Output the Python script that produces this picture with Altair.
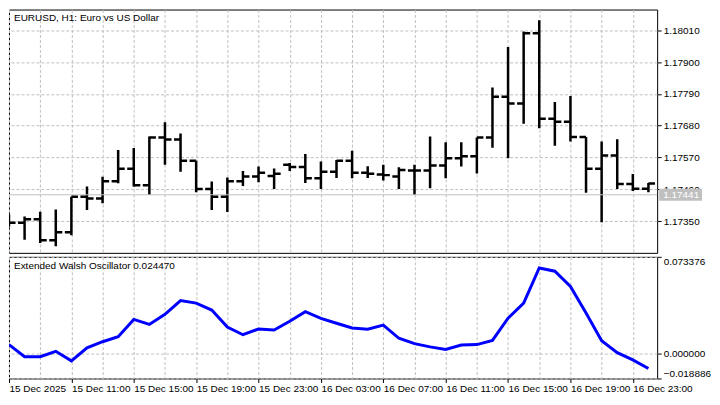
import altair as alt
import pandas as pd

# ---- data (EURUSD H1, 15 Dec 07:00 .. 17 Dec 00:00) ----
opens = [1.17353, 1.17344, 1.17356, 1.17284, 1.17311, 1.17434, 1.17428, 1.17488, 1.17531, 1.17474,
         1.17639, 1.17632, 1.17559, 1.17461, 1.17434, 1.17488, 1.17504, 1.17506, 1.17545, 1.17537,
         1.17498, 1.17521, 1.17559, 1.17517, 1.17511, 1.17504, 1.17525, 1.17525, 1.17542, 1.17567,
         1.17574, 1.17639, 1.17780, 1.17757, 1.18000, 1.17704, 1.17694, 1.17641, 1.17531, 1.17577,
         1.17478, 1.17462]
highs = [1.17373, 1.17366, 1.17382, 1.17390, 1.17434, 1.17470, 1.17503, 1.17596, 1.17603, 1.17643,
         1.17692, 1.17653, 1.17559, 1.17487, 1.17501, 1.17523, 1.17539, 1.17532, 1.17551, 1.17582,
         1.17556, 1.17561, 1.17593, 1.17540, 1.17545, 1.17536, 1.17545, 1.17643, 1.17623, 1.17623,
         1.17639, 1.17812, 1.17952, 1.18006, 1.18045, 1.17762, 1.17783, 1.17641, 1.17625, 1.17633,
         1.17513, 1.17482]
lows = [1.17330, 1.17285, 1.17274, 1.17263, 1.17301, 1.17388, 1.17412, 1.17481, 1.17470, 1.17440,
        1.17545, 1.17521, 1.17450, 1.17388, 1.17381, 1.17471, 1.17484, 1.17461, 1.17523, 1.17482,
        1.17461, 1.17499, 1.17498, 1.17499, 1.17490, 1.17461, 1.17440, 1.17464, 1.17498, 1.17539,
        1.17515, 1.17604, 1.17567, 1.17687, 1.17671, 1.17611, 1.17625, 1.17448, 1.17346, 1.17461,
        1.17454, 1.17450]
closes = [1.17344, 1.17356, 1.17284, 1.17311, 1.17434, 1.17428, 1.17488, 1.17531, 1.17474, 1.17639,
          1.17632, 1.17559, 1.17461, 1.17434, 1.17488, 1.17504, 1.17517, 1.17514, 1.17537, 1.17498,
          1.17521, 1.17559, 1.17517, 1.17514, 1.17509, 1.17527, 1.17525, 1.17542, 1.17567, 1.17574,
          1.17639, 1.17780, 1.17757, 1.18000, 1.17704, 1.17694, 1.17641, 1.17531, 1.17577, 1.17478,
          1.17462, 1.17480]
osc = [0.00683, -0.00240, -0.00240, 0.00174, -0.00552, 0.00436, 0.00901, 0.01286, 0.02594, 0.02208,
       0.02979, 0.04025, 0.03829, 0.03298, 0.02012, 0.01431, 0.01867, 0.01794, 0.02448, 0.03175,
       0.02666, 0.02303, 0.01940, 0.01845, 0.02158, 0.01162, 0.00756, 0.00509, 0.00320, 0.00654,
       0.00683, 0.00995, 0.02688, 0.03829, 0.06495, 0.06248, 0.05085, 0.03080, 0.00973, 0.00073,
       -0.00479, -0.01133]

time_labels = ["15 Dec 2025", "15 Dec 11:00", "15 Dec 15:00", "15 Dec 19:00", "15 Dec 23:00",
               "16 Dec 03:00", "16 Dec 07:00", "16 Dec 11:00", "16 Dec 15:00", "16 Dec 19:00",
               "16 Dec 23:00"]
price_ticks = [1.17350, 1.17460, 1.17570, 1.17680, 1.17790, 1.17900, 1.18010]
osc_ticks = [-0.018886, 0.0, 0.073376]
current_price = 1.17441
price_domain = [1.17240, 1.18082]
osc_domain = [-0.018886, 0.073376]
chart_title = "EURUSD, H1:  Euro vs US Dollar"
osc_title = "Extended Walsh Oscillator 0.024470"

W = 650
H1 = 244
H2 = 122
FONT = "Liberation Sans"
GRID = "#c0c0c0"

df = pd.DataFrame({"i": list(range(len(opens))), "o": opens, "h": highs,
                   "l": lows, "c": closes, "osc": osc})
cur_df = pd.DataFrame({"i": [0], "cur": [current_price], "txt": ["%.5f" % current_price]})

xscale = alt.Scale(domain=[0, 41.56], nice=False, zero=False)
pscale = alt.Scale(domain=price_domain, nice=False, zero=False)
grid_vals = list(range(0, 42, 2))
label_js = "[" + ",".join("'%s'" % s for s in time_labels) + "]"

x_top_axis = alt.Axis(values=grid_vals, labels=False, ticks=False, domain=False,
                      grid=True, gridDash=[3, 2], gridColor=GRID, title=None)
y_top_axis = alt.Axis(orient="right", values=price_ticks, format=".5f", grid=True,
                      gridDash=[3, 2], gridColor=GRID, tickSize=4, tickColor="black",
                      domain=False, labelPadding=2, title=None)

# ---------------- top panel ----------------
base = alt.Chart(df).transform_calculate(xl="datum.i - 0.42", xr="datum.i + 0.42")

vert = base.mark_rule(color="black", strokeWidth=2.5, clip=True).encode(
    x=alt.X("i:Q", scale=xscale, axis=x_top_axis),
    y=alt.Y("l:Q", scale=pscale, axis=y_top_axis),
    y2="h:Q",
)
cur_line = alt.Chart(cur_df).mark_rule(color=GRID, strokeWidth=1).encode(
    x=alt.value(0), x2=alt.value(W),
    y=alt.Y("cur:Q", scale=pscale, axis=y_top_axis),
)
otick = base.mark_rule(color="black", strokeWidth=2.5, clip=True).encode(
    x=alt.X("xl:Q", scale=xscale, axis=x_top_axis),
    x2="i:Q",
    y=alt.Y("o:Q", scale=pscale, axis=y_top_axis),
)
ctick = base.mark_rule(color="black", strokeWidth=2.5, clip=True).encode(
    x=alt.X("i:Q", scale=xscale, axis=x_top_axis),
    x2="xr:Q",
    y=alt.Y("c:Q", scale=pscale, axis=y_top_axis),
)
title_top = alt.Chart(cur_df).mark_text(
    align="left", baseline="middle", font=FONT, fontSize=10, color="black").encode(
    x=alt.value(5), y=alt.value(8), text=alt.value(chart_title))

badge = alt.Chart(cur_df).mark_rect(color=GRID, height=12, clip=False).encode(
    x=alt.value(W + 2), x2=alt.value(W + 45),
    y=alt.Y("cur:Q", scale=pscale, axis=y_top_axis))
badge_text = alt.Chart(cur_df).mark_text(align="left", baseline="middle", font=FONT,
                                         fontSize=10, color="white", clip=False).encode(
    x=alt.value(W + 6),
    y=alt.Y("cur:Q", scale=pscale, axis=y_top_axis),
    text="txt:N")

top = alt.layer(vert, cur_line, otick, ctick, title_top, badge, badge_text).properties(
    width=W, height=H1)

# ---------------- bottom panel ----------------
oscale = alt.Scale(domain=osc_domain, nice=False, zero=False)
line = alt.Chart(df).mark_line(color="#0000ff", strokeWidth=3, clip=True).encode(
    x=alt.X("i:Q", scale=xscale,
            axis=alt.Axis(values=grid_vals, grid=True, gridDash=[3, 2], gridColor=GRID,
                          domain=False, tickSize=4, tickColor="black",
                          tickOpacity={"condition": {"test": "datum.value % 4 == 0", "value": 1},
                                       "value": 0},
                          labelExpr="datum.value % 4 == 0 ? " + label_js + "[datum.value / 4] : ''",
                          labelAlign="left", labelOverlap=False, labelBound=False,
                          labelFlush=False, labelPadding=1, title=None)),
    y=alt.Y("osc:Q", scale=oscale,
            axis=alt.Axis(orient="right", values=osc_ticks, format=".6f", grid=True,
                          gridDash=[3, 2], gridColor=GRID, tickSize=4, tickColor="black",
                          domain=False, labelPadding=2, labelFlush=True, title=None)),
)
title_bot = alt.Chart(cur_df).mark_text(
    align="left", baseline="middle", font=FONT, fontSize=10, color="black").encode(
    x=alt.value(5), y=alt.value(9), text=alt.value(osc_title))

bottom = alt.layer(line, title_bot).properties(width=W, height=H2)

chart = alt.vconcat(top, bottom, spacing=2).properties(
    padding={"left": 0, "top": 0, "right": 0, "bottom": 0},
    background="white",
).configure_view(stroke="black", strokeWidth=1).configure_axis(
    labelFont=FONT, labelFontSize=10, labelColor="black"
)

chart.save("out.html", embed_options={"renderer": "svg", "actions": False})
